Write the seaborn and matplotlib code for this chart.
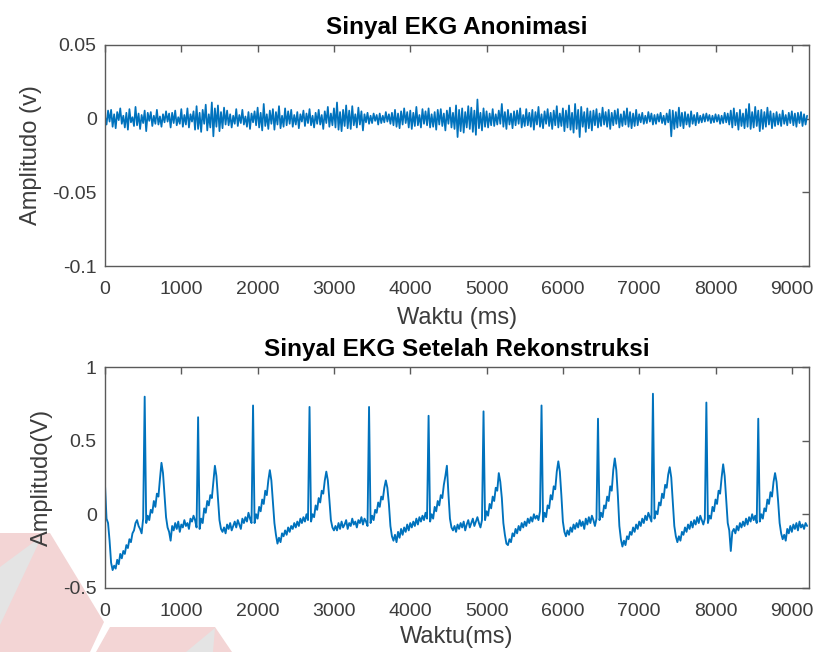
import numpy as np
import matplotlib
matplotlib.use("Agg")
import matplotlib.pyplot as plt
from matplotlib.patches import Polygon
import seaborn as sns

# sampling step of both traces (ms)
step_ms = 20

# anonymised signal, in units of 0.1 mV
top_signal_01mv = [
    15, -40, 55, -20, 60, -55, 30, -65, 45, -10,
    70, -35, 20, -60, 40, -75, 65, -25, 10, -50,
    80, -45, 35, -70, 25, -30, 55, -85, 40, -15,
    45, -50, 20, -35, 60, -40, 15, -55, 30, -25,
    50, -20, 35, -60, 40, -30, 55, -45, 10, -35,
    65, -55, 25, -40, 70, -60, 30, -20, 50, -75,
    85, -70, 40, -90, 60, -35, 95, -80, 30, -60,
    110, -120, 70, -55, 90, -85, 45, -65, 75, -40,
    55, -45, 30, -60, 20, -35, 65, -50, 25, -30,
    60, -40, 15, -55, 45, -70, 35, -25, 50, -45,
    75, -60, 40, -80, 100, -50, 30, -70, 55, -35,
    65, -75, 45, -40, 85, -65, 20, -55, 70, -45,
    50, -35, 60, -55, 25, -40, 45, -65, 30, -20,
    55, -50, 35, -30, 65, -45, 20, -60, 40, -35,
    60, -40, 25, -70, 50, -30, 80, -55, 35, -45,
    70, -60, 110, -75, 45, -85, 60, -50, 90, -65,
    55, -70, 85, -45, 30, -60, 75, -40, 50, -80,
    30, -25, 40, -35, 20, -30, 35, -15, 25, -40,
    35, -30, 20, -25, 45, -20, 30, -35, 40, -45,
    60, -55, 35, -65, 50, -40, 70, -30, 45, -60,
    55, -70, 40, -50, 80, -45, 25, -60, 65, -35,
    50, -45, 70, -60, 30, -55, 45, -75, 60, -40,
    65, -50, 35, -80, 55, -35, 75, -60, 40, -70,
    90, -125, 60, -85, 70, -95, 45, -60, 85, -70,
    75, -90, 55, -110, 130, -65, 40, -80, 70, -55,
    50, -60, 35, -45, 65, -50, 30, -40, 55, -35,
    100, -55, 45, -70, 60, -40, 35, -65, 50, -45,
    55, -35, 70, -60, 25, -50, 65, -45, 40, -55,
    60, -75, 45, -40, 80, -55, 30, -65, 50, -35,
    65, -50, 40, -70, 55, -45, 85, -60, 35, -50,
    70, -85, 55, -60, 90, -75, 40, -95, 100, -70,
    60, -125, 80, -55, 45, -90, 70, -65, 50, -80,
    55, -45, 65, -60, 35, -50, 75, -40, 45, -55,
    60, -70, 40, -45, 55, -35, 65, -60, 30, -50,
    50, -40, 70, -55, 45, -65, 35, -50, 60, -45,
    30, -25, 40, -35, 20, -30, 45, -20, 35, -40,
    25, -35, 30, -20, 40, -30, 20, -40, 35, -25,
    60, -120, 55, -70, 45, -60, 75, -50, 40, -65,
    45, -40, 30, -55, 50, -35, 25, -45, 40, -30,
    20, -25, 30, -20, 35, -15, 25, -30, 20, -25,
    30, -20, 25, -35, 20, -30, 40, -25, 35, -40,
    55, -60, 70, -45, 40, -75, 60, -50, 35, -65,
    65, -55, 100, -70, 45, -60, 80, -50, 55, -85,
    60, -70, 45, -55, 75, -40, 50, -65, 35, -50,
    45, -40, 30, -50, 55, -35, 25, -45, 40, -30,
    50, -45, 35, -55, 40, -30, 45, -50, 30, -40,
    20,
]

# reconstructed ECG, in units of 0.01 V
ecg_signal_cv = [
    # start-up drift
    20, -3, -6, -18, -33, -38, -35, -37, -31, -34, -27, -30, -25, -27, -21,
    -23, -17, -19, -13, -11, -6, -4, -8, -10, -13, -3,
    # beat 1
    80,
    -6, -1, -4, 3, 1, 9, 5, 14, 12, 24, 35, 28, 13, -2, -9, -12,
    -18, -8, -11, -6, -10, -5, -12, -7, -9, -4, -8, -6, -10, -3, -5, -1, -4, -9,
    # beat 2
    66,
    -10, -3, -6, 4, 1, 9, 6, 13, 11, 22, 33, 26, 11, -4, -10, -12,
    -9, -13, -7, -10, -6, -11, -8, -5, -9, -4, -7, -10, -3, -6, -2, -5, 1, -3, -6,
    # beat 3
    74,
    -6, 0, -3, 5, 2, 10, 7, 16, 13, 23, 30, 23, 9, -6, -14, -20,
    -16, -19, -13, -15, -11, -14, -9, -12, -8, -10, -6, -9, -5, -8, -3, -6, -2, -5, 0, -4,
    # beat 4
    73,
    -5, 0, -2, 6, 3, 11, 8, 16, 14, 23, 29, 23, 10, -4, -9, -11,
    -8, -11, -6, -10, -5, -9, -7, -4, -10, -6, -8, -3, -7, -5, -9, -4, -6, -2, -7, -3, -5, -8,
    # beat 5
    73,
    -6, -1, -4, 3, 1, 8, 5, 12, 10, 18, 23, 18, 7, -8, -15, -18,
    -14, -19, -12, -16, -10, -14, -9, -12, -7, -11, -6, -9, -5, -8, -3, -7, -2, -5, -1, -4, 1, -3,
    # beat 6
    67,
    -5, 0, -3, 5, 2, 9, 6, 13, 11, 20, 26, 33, 14, -3, -9, -11,
    -8, -12, -7, -10, -6, -9, -5, -11, -7, -4, -9, -6, -3, -8, -5, -2, -6, -9, -4,
    # beat 7
    70,
    -4, 2, -1, 7, 4, 12, 9, 18, 16, 28, 22, 11, -6, -14, -20, -21,
    -17, -19, -13, -15, -10, -13, -8, -11, -6, -9, -5, -8, -3, -6, -2, -5, 0, -3, -1, -4, 2,
    # beat 8
    74,
    -5, 1, -2, 6, 4, 13, 10, 19, 17, 29, 36, 29, 13, -5, -12, -15,
    -11, -14, -9, -12, -7, -10, -6, -9, -4, -8, -5, -10, -3, -7, -2, -6, -1, -4, -8, -3,
    # beat 9
    65,
    -4, 1, -2, 6, 4, 12, 9, 19, 16, 30, 38, 30, 13, -8, -17, -22,
    -18, -21, -15, -17, -12, -14, -9, -12, -7, -10, -5, -8, -3, -6, -1, -4, 1, -2, -5,
    # beat 10
    82,
    -3, 2, 0, 8, 6, 14, 11, 20, 18, 27, 32, 25, 9, -8, -15, -19,
    -15, -18, -12, -14, -9, -12, -7, -10, -5, -9, -4, -7, -2, -6, -1, -4, -7, -3,
    # beat 11
    76,
    -6, -1, -3, 5, 2, 10, 7, 16, 14, 25, 34, 26, 10, -6, -11, -25,
    -12, -10, -13, -8, -11, -6, -9, -5, -8, -3, -7, -2, -5, 0, -4, -1, -6,
    # beat 12
    65,
    -5, 0, -3, 4, 2, 10, 7, 15, 12, 22, 28, 22, 9, -6, -13, -17,
    -14, -18, -10, -13, -8, -12, -7, -10, -6, -11, -5, -9, -7, -10, -6, -8,
]

x_ticks = [0, 1000, 2000, 3000, 4000, 5000, 6000, 7000, 8000, 9000]
x_tick_labels = ["0", "1000", "2000", "3000", "4000", "5000", "6000", "7000", "8000", "9000"]
top_y_ticks = [-0.1, -0.05, 0, 0.05]
top_y_tick_labels = ["-0.1", "-0.05", "0", "0.05"]
bottom_y_ticks = [-0.5, 0, 0.5, 1]
bottom_y_tick_labels = ["-0.5", "0", "0.5", "1"]

top_v = np.array(top_signal_01mv) / 10000.0
top_t = np.arange(len(top_v)) * step_ms
ecg_v = np.array(ecg_signal_cv) / 100.0
ecg_t = np.arange(len(ecg_v)) * step_ms

sns.set_style("white")
plt.rcParams["font.family"] = ["Liberation Sans", "DejaVu Sans"]

line_color = "#0072BD"
axis_color = "#5a5a5a"
text_color = "#3c3c3c"

fig = plt.figure(figsize=(8.19, 6.52), dpi=100)
fig.patch.set_facecolor("white")

# faint logo watermark in the lower-left corner (figure pixels, origin top-left)
W, H = 819, 652
def px(points):
    return [(x / W, 1 - y / H) for x, y in points]

marks = [
    ([(0, 533), (50, 533), (104, 622), (90, 652), (0, 652)], "#f3d5d5"),
    ([(0, 567), (42, 536), (0, 625)], "#e4e4e4"),
    ([(110, 627), (215, 627), (232, 652), (96, 652)], "#f3d5d5"),
    ([(215, 628), (186, 652), (213, 652)], "#e4e4e4"),
]
for pts, col in marks:
    fig.patches.append(Polygon(px(pts), closed=True, transform=fig.transFigure,
                               facecolor=col, edgecolor="none", zorder=-5))

ax1 = fig.add_axes([0.1282, 0.592, 0.8596, 0.339])
ax2 = fig.add_axes([0.1282, 0.0986, 0.8596, 0.3381])

sns.lineplot(x=top_t, y=top_v, ax=ax1, color=line_color, linewidth=1.25,
             estimator=None, sort=False)
sns.lineplot(x=ecg_t, y=ecg_v, ax=ax2, color=line_color, linewidth=1.35,
             estimator=None, sort=False)

panels = [
    (ax1, "Sinyal EKG Anonimasi", "Waktu (ms)", "Amplitudo (v)",
     (-0.1, 0.05), top_y_ticks, top_y_tick_labels, 6.5),
    (ax2, "Sinyal EKG Setelah Rekonstruksi", "Waktu(ms)", "Amplitudo(V)",
     (-0.5, 1), bottom_y_ticks, bottom_y_tick_labels, 4.5),
]
for ax, title, xlab, ylab, ylim, yt, ytl, xpad in panels:
    ax.set_facecolor("white")
    ax.set_xlim(0, 9225)
    ax.set_ylim(*ylim)
    ax.set_xticks(x_ticks)
    ax.set_xticklabels(x_tick_labels)
    ax.set_yticks(yt)
    ax.set_yticklabels(ytl)
    ax.tick_params(direction="in", length=5, width=1, colors=axis_color,
                   labelcolor=text_color, labelsize=14,
                   top=True, right=True)
    ax.tick_params(axis="x", pad=11)
    ax.tick_params(axis="y", pad=6)
    for s in ax.spines.values():
        s.set_visible(True)
        s.set_color(axis_color)
        s.set_linewidth(1.0)
    ax.set_title(title, fontsize=17.5, fontweight="bold", color="black", pad=8)
    ax.set_xlabel(xlab, fontsize=17, color=text_color, labelpad=xpad)
    ax.set_ylabel(ylab, fontsize=17, color=text_color, labelpad=7.5)

fig.savefig("out.png", dpi=100, facecolor="white")
